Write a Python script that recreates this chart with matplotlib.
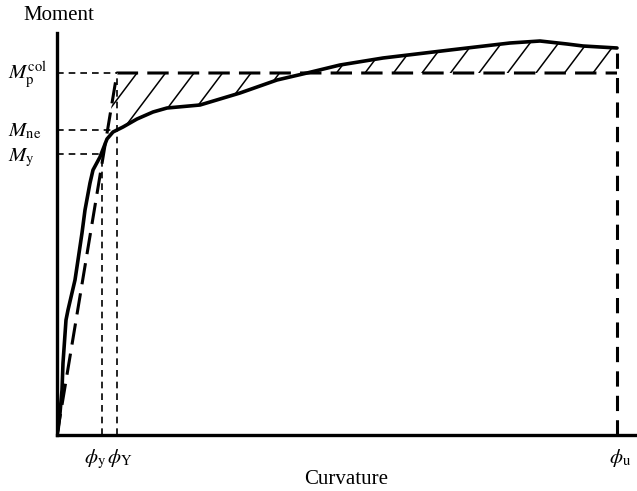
import numpy as np
import matplotlib
matplotlib.use('Agg')
import matplotlib.pyplot as plt

plt.rcParams['font.family'] = ['Liberation Serif', 'DejaVu Serif']
plt.rcParams['mathtext.fontset'] = 'stix'

# Measured moment-curvature curve (arbitrary units)
curv = [0, 1, 3, 5, 6, 9, 11, 18, 21, 25, 28, 33, 36, 43, 50, 56, 66, 80, 96, 110,
        143, 183, 220, 250, 283, 326, 393, 453, 483, 510, 526, 560]
moment = [0, 5, 22, 45, 72, 115, 125, 155, 175, 202, 225, 252, 265, 278, 296, 303, 308,
          316, 323, 327, 330, 342, 355, 362, 370, 377, 385, 392, 394, 391, 389, 387]

# Characteristic points
phi_y, phi_Y, phi_u = 45, 60, 560
M_y, M_ne, M_p = 281, 305, 362

fig = plt.figure(figsize=(6.37, 4.91), dpi=100)
ax = fig.add_axes([57/637, 56/491, 580/637, 402/491])
ax.set_xlim(0, 580)
ax.set_ylim(0, 402)
for s in ['top', 'right']:
    ax.spines[s].set_visible(False)
for s in ['left', 'bottom']:
    ax.spines[s].set_linewidth(2.4)
ax.set_xticks([])
ax.set_yticks([])

# idealised bilinear (elastic-perfectly plastic) line
bx = [0, phi_Y, phi_u]
by = [0, M_p, M_p]
ax.plot(bx, by, color='black', lw=2.2, dashes=(7, 3), zorder=3)

# reference dashed lines
thin = dict(color='black', lw=1.2, dashes=(4, 3), zorder=2)
ax.plot([0, phi_Y], [M_p, M_p], **thin)
ax.plot([0, 58], [M_ne, M_ne], **thin)
ax.plot([0, phi_y], [M_y, M_y], **thin)
ax.plot([phi_y, phi_y], [0, M_y], **thin)
ax.plot([phi_Y, phi_Y], [0, M_p], **thin)
ax.plot([phi_u, phi_u], [0, moment[-1]], color='black', lw=2.2, dashes=(5, 3), zorder=3)

# hatched area between curve and bilinear idealisation
xg = np.linspace(48, phi_u, 400)
cg = np.interp(xg, curv, moment)
bg = np.interp(xg, bx, by)
poly = ax.fill_between(xg, np.minimum(cg, bg), np.maximum(cg, bg),
                       facecolor='none', edgecolor='none')
clip = poly.get_paths()[0]
slope = 1.33
for x0 in np.arange(80, 560, 28.5):
    ln, = ax.plot([x0 - 300 / slope, x0 + 300 / slope], [M_p - 300, M_p + 300],
                  color='black', lw=1.1, zorder=2)
    ln.set_clip_path(clip, ax.transData)

# experimental curve
ax.plot(curv, moment, color='black', lw=2.6, solid_capstyle='round',
        solid_joinstyle='round', zorder=4)

# labels
fs = 15
ax.text(-49, M_p - 6, r'$M_{\mathrm{p}}^{\mathrm{col}}$', fontsize=fs, ha='left', va='baseline', clip_on=False)
ax.text(-49, M_ne - 6, r'$M_{\mathrm{ne}}$', fontsize=fs, ha='left', va='baseline', clip_on=False)
ax.text(-49, M_y - 7, r'$M_{\mathrm{y}}$', fontsize=fs, ha='left', va='baseline', clip_on=False)
ax.text(phi_y - 7, -28, r'$\phi_{\mathrm{y}}$', fontsize=fs, ha='center', va='baseline', clip_on=False)
ax.text(phi_Y + 3, -28, r'$\phi_{\mathrm{Y}}$', fontsize=fs, ha='center', va='baseline', clip_on=False)
ax.text(phi_u + 3, -28, r'$\phi_{\mathrm{u}}$', fontsize=fs, ha='center', va='baseline', clip_on=False)

fig.text(346/637, 1 - 484/491, 'Curvature', fontsize=fs, ha='center', va='baseline')
fig.text(59/637, 1 - 20/491, 'Moment', fontsize=fs, ha='center', va='baseline')

fig.savefig('out.png', dpi=100)
